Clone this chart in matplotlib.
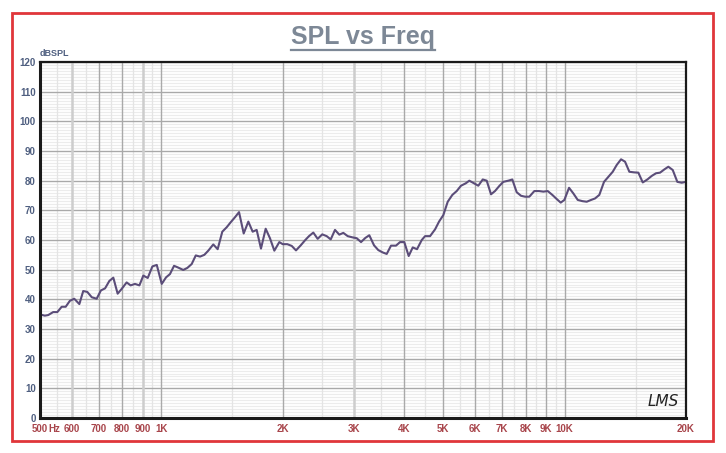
import matplotlib
matplotlib.use("Agg")
import matplotlib.pyplot as plt
from matplotlib.lines import Line2D
from matplotlib.patches import Rectangle

# =========================
# data
# =========================

freq_hz = [
    500, 514, 524, 539, 552, 566, 579, 593, 608, 626,
    640, 655, 672, 691, 708, 725, 743, 760, 779, 797,
    820, 839, 860, 882, 902, 925, 950, 974, 1002, 1027,
    1050, 1075, 1101, 1133, 1160, 1189, 1217, 1247, 1278, 1307,
    1345, 1379, 1416, 1452, 1486, 1523, 1558, 1600, 1643, 1684,
    1723, 1766, 1814, 1859, 1906, 1961, 1999, 2052, 2105, 2157,
    2216, 2271, 2323, 2381, 2441, 2506, 2570, 2630, 2695, 2762,
    2826, 2898, 2975, 3051, 3127, 3205, 3278, 3368, 3451, 3540,
    3621, 3711, 3818, 3907, 4003, 4105, 4201, 4305, 4423, 4508,
    4638, 4773, 4882, 5003, 5130, 5267, 5400, 5534, 5685, 5803,
    5961, 6109, 6265, 6409, 6569, 6720, 6886, 7046, 7250, 7418,
    7606, 7798, 7978, 8175, 8413, 8641, 8857, 9082, 9323, 9560,
    9780, 9985, 10256, 10511, 10779, 11066, 11346, 11629, 11897, 12191,
    12524, 12836, 13162, 13466, 13803, 14121, 14473, 14866, 15236, 15623,
    16039, 16446, 16856, 17245, 17675, 18082, 18541, 19034, 19517, 20000,
]

spl_db = [
    34.9, 34.5, 34.7, 35.7, 35.7, 37.5, 37.5, 39.5, 40.2, 38.4,
    42.8, 42.5, 40.7, 40.2, 43.0, 43.7, 46.2, 47.3, 41.9, 43.5,
    45.7, 44.7, 45.2, 44.7, 48.0, 47.2, 51.1, 51.6, 45.2, 47.4,
    48.5, 51.3, 50.7, 49.9, 50.6, 51.9, 54.8, 54.4, 55.0, 56.4,
    58.5, 56.9, 62.8, 64.3, 66.0, 67.7, 69.4, 62.2, 66.2, 62.8,
    63.4, 57.1, 63.8, 60.6, 56.4, 59.3, 58.6, 58.6, 58.0, 56.5,
    58.2, 59.9, 61.3, 62.5, 60.4, 61.9, 61.3, 60.2, 63.4, 61.8,
    62.4, 61.3, 60.9, 60.6, 59.3, 60.7, 61.6, 58.2, 56.6, 55.8,
    55.3, 58.1, 58.1, 59.3, 59.3, 54.6, 57.5, 56.9, 60.0, 61.3,
    61.3, 63.6, 66.2, 68.4, 72.9, 75.2, 76.5, 78.3, 79.1, 80.0,
    79.1, 78.3, 80.4, 80.0, 75.4, 76.5, 78.2, 79.6, 80.0, 80.4,
    76.1, 74.9, 74.6, 74.6, 76.5, 76.5, 76.3, 76.5, 75.2, 73.8,
    72.6, 73.5, 77.6, 75.7, 73.5, 73.1, 72.9, 73.5, 74.0, 75.2,
    79.6, 81.3, 83.0, 85.3, 87.2, 86.4, 83.0, 82.8, 82.7, 79.4,
    80.4, 81.6, 82.5, 82.7, 83.8, 84.7, 83.6, 79.6, 79.3, 79.6,
]

x_ticks = [500, 600, 700, 800, 900, 1000, 2000, 3000, 4000, 5000,
           6000, 7000, 8000, 9000, 10000, 20000]
x_tick_labels = ["500", "600", "700", "800", "900", "1K", "2K", "3K", "4K", "5K",
                 "6K", "7K", "8K", "9K", "10K", "20K"]
x_minor = [550, 650, 750, 850, 950, 1500, 2500, 3500, 4500, 5500,
           6500, 7500, 8500, 9500, 15000]
y_ticks = list(range(0, 121, 10))

# =========================
# colours
# =========================

line_color = "#5b4d79"
ylabel_color = "#4f5f80"
xlabel_color = "#a8454b"
title_color = "#7d8896"
border_red = "#e0363a"


def main():
    plt.rcParams["font.family"] = ["Liberation Sans", "DejaVu Sans"]

    fig = plt.figure(figsize=(7.26, 4.53), dpi=100)
    fig.patch.set_facecolor("white")

    # outer red frame
    fig.patches.append(Rectangle(
        (12 / 726, 1 - 441 / 453), (713 - 12) / 726, (441 - 13) / 453,
        transform=fig.transFigure, fill=False,
        edgecolor=border_red, linewidth=2, zorder=0
    ))

    ax = fig.add_axes([40 / 726, 1 - 418 / 453, 646 / 726, 356 / 453])

    ax.set_xscale("log")
    ax.set_xlim(500, 20000)
    ax.set_ylim(0, 120)

    # grid
    for yv in range(0, 121):
        if yv % 10 == 0:
            continue
        ax.axhline(yv, color="#ececec", linewidth=0.8, zorder=1)
    for yv in y_ticks:
        ax.axhline(yv, color="#a9a9a9", linewidth=1.0, zorder=2)
    for xv in x_minor:
        ax.axvline(xv, color="#e4e4e4", linewidth=0.9, zorder=1)
    for xv in x_ticks:
        if xv in (600, 900, 3000):
            ax.axvline(xv, color="#cdcdcd", linewidth=1.8, zorder=2)
        else:
            ax.axvline(xv, color="#a9a9a9", linewidth=1.0, zorder=2)

    # curve
    ax.plot(freq_hz, spl_db, color=line_color, linewidth=1.5, zorder=5)

    # ticks
    ax.set_xticks(x_ticks)
    ax.set_xticklabels(x_tick_labels)
    ax.xaxis.set_minor_locator(matplotlib.ticker.NullLocator())
    ax.set_yticks(y_ticks)
    ax.tick_params(axis="both", length=0)
    ax.tick_params(axis="x", pad=4, labelsize=7, labelcolor=xlabel_color)
    ax.tick_params(axis="y", pad=3, labelsize=7, labelcolor=ylabel_color)
    for lab in ax.get_xticklabels() + ax.get_yticklabels():
        lab.set_fontweight("bold")

    for side in ["left", "bottom"]:
        ax.spines[side].set_linewidth(2.2)
    for side in ["top", "right"]:
        ax.spines[side].set_linewidth(1.6)
    for side in ax.spines:
        ax.spines[side].set_color("#1a1a1a")
        ax.spines[side].set_zorder(6)

    # unit labels
    ax.text(0.0, 1.012, "dBSPL", transform=ax.transAxes, fontsize=6.5,
            fontweight="bold", color=ylabel_color, ha="left", va="bottom")
    ax.text(562, -0.0155, "Hz", transform=ax.get_xaxis_transform(), fontsize=7,
            fontweight="bold", color=xlabel_color, ha="right", va="top")

    # signature
    ax.text(0.965, 0.045, "LMS", transform=ax.transAxes, fontsize=11,
            style="italic", fontweight="light", color="#222222",
            family=["DejaVu Sans"], ha="center", va="center", zorder=7)

    # title with underline
    title = fig.text(363 / 726, 1 - 37 / 453, "SPL vs Freq", fontsize=18,
                     fontweight="bold", color=title_color,
                     ha="center", va="center",
                     family=["Liberation Sans Narrow", "Liberation Sans"])
    fig.canvas.draw()
    bb = title.get_window_extent()
    inv = fig.transFigure.inverted()
    (x0, y0), (x1, _) = inv.transform([(bb.x0, bb.y0 - 1), (bb.x1, bb.y0)])
    fig.add_artist(Line2D([x0, x1], [y0, y0], transform=fig.transFigure,
                          color=title_color, linewidth=1.6))

    fig.savefig("out.png", dpi=100)
    plt.close(fig)


if __name__ == "__main__":
    main()
